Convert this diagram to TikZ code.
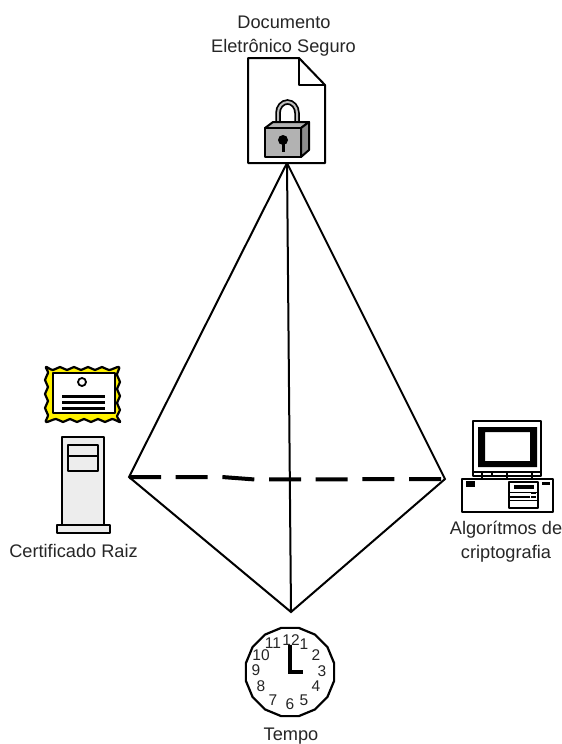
\documentclass[tikz,border=0pt]{standalone}
\usepackage{fontspec}
\setmainfont{Liberation Sans}
\usetikzlibrary{shapes.geometric}
\tikzset{
  lbl/.style={anchor=base,inner sep=0pt,font=\fontsize{18.2}{20}\selectfont,text=black!85},
  num/.style={inner sep=0pt,font=\fontsize{15.5}{16}\selectfont,text=black!85},
  edge/.style={line width=2pt,black,line join=miter},
  dashedge/.style={line width=4pt,black,dash pattern=on 32pt off 14.7pt},
  icon/.style={line width=2pt,black,line join=round},
  thinl/.style={line width=1.2pt,black,line join=round}
}
\begin{document}
\begin{tikzpicture}[x=1pt,y=-1pt]
\useasboundingbox (0,0) rectangle (562,744);
\fill[white] (0,0) rectangle (562,744);
% corners
\coordinate (apex) at (287,163);
\coordinate (lft) at (129,477);
\coordinate (rgt) at (445,479);
\coordinate (bot) at (291,612);
\coordinate (dm1) at (222,477);
\coordinate (dm2) at (255,479.5);
\draw[edge] (apex) -- (lft) -- (bot) -- (rgt) -- cycle;
\draw[edge] (apex) -- (bot);
\draw[dashedge] (lft) -- (dm1) -- (dm2) -- (rgt);
% document
\draw[icon,fill=white] (248,58) -- (299,58) -- (325,85) -- (325,163) -- (248,163) -- cycle;
\draw[icon] (299,58) -- (299,85) -- (325,85);
% padlock
\draw[line width=5.5pt,black] (278,127) -- (278,113) arc[start angle=180,end angle=360,x radius=9.5,y radius=11] -- (297,124);
\draw[line width=2pt,white!75!black] (278,124) -- (278,113) arc[start angle=180,end angle=360,x radius=9.5,y radius=11] -- (297,122);
\draw[icon,fill=black!30] (265,128) -- (273,122) -- (309,122) -- (301,128) -- cycle;
\draw[icon,fill=black!45] (301,128) -- (309,122) -- (309,150) -- (301,157) -- cycle;
\draw[icon,fill=black!30] (265,128) rectangle (301,157);
\fill[black] (283,140) circle[radius=5];
\fill[black] (281.5,140) rectangle (284.5,152);
% certificate
\draw[line width=2.2pt,black,fill=yellow,line join=round] plot[smooth cycle,tension=0.6] coordinates {
  (46,367) (53,370) (60,367) (67,370) (74,367) (81,370) (88,367) (95,370) (102,367) (109,370) (119,367)
  (117,375) (120,382) (117,389) (120,396) (117,403) (120,410) (117,416) (120,422)
  (112,419) (105,422) (98,419) (91,422) (84,419) (77,422) (70,419) (63,422) (56,419) (46,422)
  (48,415) (45,408) (48,401) (45,394) (48,387) (45,380) (48,373)};
\draw[icon,fill=white] (53,373) rectangle (115,413);
\draw[line width=1.8pt] (82,382) circle[radius=4];
\fill[black] (62,394.5) rectangle (105,397.5);
\fill[black] (62,400.5) rectangle (105,403.5);
\fill[black] (62,406.5) rectangle (105,409.5);
% tower
\draw[icon,fill=black!7] (62,437) rectangle (104,525);
\draw[icon,fill=black!7] (57,525) rectangle (110,533);
\draw[icon,fill=black!7] (68,445) rectangle (98,471);
\draw[icon] (68,456) -- (98,456);
% monitor
\draw[icon,fill=white] (473,421) rectangle (541,476);
\draw[icon] (473,472) -- (541,472);
\fill[black,even odd rule] (478,427) rectangle (537,467) (485,432) rectangle (530,461);
\draw[thinl] (482,472) -- (482,480) (492,472) -- (492,476) (507,472) -- (507,480) (532,472) -- (532,480);
% case
\draw[icon,fill=white] (462,479) rectangle (553,512);
\fill[black] (466,481) rectangle (475,487);
\draw[icon,fill=white] (509,482) rectangle (538,508);
\fill[black] (514,485) rectangle (534,489);
\draw[thinl] (509,492.5) -- (538,492.5) (509,497) -- (530,497) (509,500.5) -- (538,500.5);
\fill[black] (531,491.5) rectangle (536,494);
\fill[black] (531,496) rectangle (536,498);
\fill[black] (542,482) rectangle (550,484.5);
% clock
\node[regular polygon,regular polygon sides=16,minimum size=90pt,inner sep=0pt,draw,line width=2.2pt,fill=white] (clock) at (290,672) {};
\draw[line width=3.4pt] (290,645) -- (290,673.7);
\draw[line width=3.2pt] (288.3,672) -- (303,672);
\node[num] (n12) at (291,640) {12};
\node[num] (n1) at (304,644) {1};
\node[num] (n2) at (316,655) {2};
\node[num] (n3) at (322,671) {3};
\node[num] (n4) at (316,686) {4};
\node[num] (n5) at (304,700) {5};
\node[num] (n6) at (290,704) {6};
\node[num] (n7) at (273,700) {7};
\node[num] (n8) at (261,686) {8};
\node[num] (n9) at (256,670) {9};
\node[num] (n10) at (261,655) {10};
\node[num] (n11) at (273,643) {11};
% labels
\node[lbl] (doc1) at (284,28) {Documento};
\node[lbl] (doc2) at (283.5,52) {Eletrônico Seguro};
\node[lbl] (cert) at (73.5,557) {Certificado Raiz};
\node[lbl] (alg1) at (506,534) {Algorítmos de};
\node[lbl] (alg2) at (506,558) {criptografia};
\node[lbl] (tempo) at (291,740) {Tempo};
\end{tikzpicture}
\end{document}
